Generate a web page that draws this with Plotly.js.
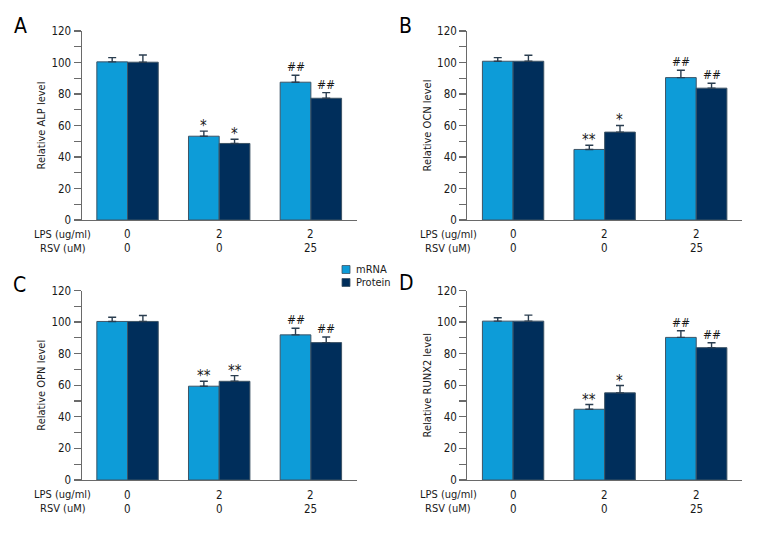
<!DOCTYPE html>
<html>
<head>
<meta charset="utf-8">
<script src="https://cdn.plot.ly/plotly-3.0.1.min.js"></script>
<style>html,body{margin:0;padding:0;background:#fff;}#chart{width:780px;height:540px;}</style>
</head>
<body>
<div id="chart"></div>
<script>
// ---- data ----
const groupIndex = [0, 1, 2];
const lpsLabels = ['0', '2', '2'];
const rsvLabels = ['0', '0', '25'];
const seriesNames = ['mRNA', 'Protein'];
const panelLetters = ['A', 'B', 'C', 'D'];
const yTitles = ['Relative ALP level', 'Relative OCN level', 'Relative OPN level', 'Relative RUNX2 level'];

const alpMrna = [100.4, 53.2, 87.5];
const alpMrnaErr = [2.7, 3.2, 4.4];
const alpProtein = [100.2, 48.6, 77.3];
const alpProteinErr = [4.6, 2.7, 3.6];
const alpMrnaSig = ['', '*', '##'];
const alpProteinSig = ['', '*', '##'];

const ocnMrna = [100.8, 44.8, 90.4];
const ocnMrnaErr = [2.3, 2.7, 4.7];
const ocnProtein = [100.8, 55.8, 83.7];
const ocnProteinErr = [3.8, 4.2, 3.1];
const ocnMrnaSig = ['', '**', '##'];
const ocnProteinSig = ['', '*', '##'];

const opnMrna = [100.4, 59.4, 91.9];
const opnMrnaErr = [2.7, 3.1, 4.2];
const opnProtein = [100.4, 62.5, 87.0];
const opnProteinErr = [3.8, 3.6, 3.6];
const opnMrnaSig = ['', '**', '##'];
const opnProteinSig = ['', '**', '##'];

const runxMrna = [100.6, 44.8, 90.3];
const runxMrnaErr = [2.1, 3.0, 4.2];
const runxProtein = [100.6, 55.2, 83.8];
const runxProteinErr = [3.8, 4.6, 3.1];
const runxMrnaSig = ['', '**', '##'];
const runxProteinSig = ['', '*', '##'];

// ---- styling ----
const W = 780, H = 540;
const FONT = '"Liberation Sans Narrow", "DejaVu Sans Condensed", "Arial Narrow", sans-serif';
const LIGHT = '#0d9cd8';
const DARK = '#002e5b';
const EDGE = '#3d5466';
const ERRC = '#2b3e50';
const AXC = '#6a6a6a';
const TXT = '#1a1a1a';
const BARGAP = 0.33;

const panels = [
  {m: alpMrna, me: alpMrnaErr, p: alpProtein, pe: alpProteinErr, ms: alpMrnaSig, ps: alpProteinSig},
  {m: ocnMrna, me: ocnMrnaErr, p: ocnProtein, pe: ocnProteinErr, ms: ocnMrnaSig, ps: ocnProteinSig},
  {m: opnMrna, me: opnMrnaErr, p: opnProtein, pe: opnProteinErr, ms: opnMrnaSig, ps: opnProteinSig},
  {m: runxMrna, me: runxMrnaErr, p: runxProtein, pe: runxProteinErr, ms: runxMrnaSig, ps: runxProteinSig}
];

// pixel geometry of each plot box: [left, right, top, bottom]
const boxes = [
  [81.7, 356.7, 31, 220],
  [467.3, 742, 31, 220],
  [81.7, 356.7, 290.5, 480],
  [467.3, 742, 290.5, 480]
];
const letterPos = [[20, 26], [405, 26], [19.5, 285], [406, 283]];

const traces = [];
const layout = {
  width: W, height: H,
  margin: {l: 0, r: 0, t: 0, b: 0},
  paper_bgcolor: '#fff', plot_bgcolor: 'rgba(0,0,0,0)',
  showlegend: false,
  barmode: 'group', bargap: BARGAP, bargroupgap: 0,
  font: {family: FONT, size: 11, color: TXT},
  annotations: [], shapes: []
};

const half = (1 - BARGAP) / 4;

panels.forEach((pn, k) => {
  const n = k === 0 ? '' : String(k + 1);
  const xa = 'x' + n, ya = 'y' + n;
  const b = boxes[k];
  layout['xaxis' + n] = {
    domain: [b[0] / W, b[1] / W], anchor: ya,
    range: [-0.5, 2.5], showline: true, linecolor: AXC, linewidth: 1.2,
    ticks: '', showticklabels: false, showgrid: false, zeroline: false, fixedrange: true
  };
  layout['yaxis' + n] = {
    domain: [1 - b[3] / H, 1 - b[2] / H], anchor: xa,
    range: [0, 120], dtick: 20, tick0: 0,
    showline: true, linecolor: AXC, linewidth: 1.2,
    ticks: 'outside', ticklen: 7, tickwidth: 1.2, tickcolor: AXC,
    minor: {dtick: 10, ticks: 'outside', ticklen: 7, tickwidth: 1.2, tickcolor: AXC, showgrid: false},
    tickfont: {family: FONT, size: 11.5, color: TXT},
    showgrid: false, zeroline: false, fixedrange: true,
    title: {text: yTitles[k], font: {family: FONT, size: 11, color: TXT}, standoff: 3}
  };
  traces.push({
    type: 'bar', name: seriesNames[0], x: groupIndex, y: pn.m, xaxis: xa, yaxis: ya,
    marker: {color: LIGHT, line: {color: EDGE, width: 1}},
    error_y: {type: 'data', symmetric: false, array: pn.me, arrayminus: pn.me.map(() => 0), color: ERRC, thickness: 1.4, width: 4},
    offsetgroup: 'm', hoverinfo: 'skip'
  });
  traces.push({
    type: 'bar', name: seriesNames[1], x: groupIndex, y: pn.p, xaxis: xa, yaxis: ya,
    marker: {color: DARK, line: {color: EDGE, width: 1}},
    error_y: {type: 'data', symmetric: false, array: pn.pe, arrayminus: pn.pe.map(() => 0), color: ERRC, thickness: 1.4, width: 4},
    offsetgroup: 'p', hoverinfo: 'skip'
  });
  // significance markers
  groupIndex.forEach((g, i) => {
    [[pn.ms, pn.m, pn.me, -half], [pn.ps, pn.p, pn.pe, half]].forEach(([sig, v, e, off]) => {
      if (!sig[i]) return;
      const isStar = sig[i].indexOf('*') >= 0;
      layout.annotations.push({
        xref: xa, yref: ya, x: g + off, y: v[i] + e[i], text: sig[i],
        showarrow: false, xanchor: 'center', yanchor: 'bottom', yshift: isStar ? -6 : -1,
        font: {family: FONT, size: isStar ? 15 : 12, color: TXT}
      });
    });
    // x category labels (two rows)
    layout.annotations.push({
      xref: xa, yref: ya, x: g, y: 0, yshift: -14.5, text: lpsLabels[i],
      showarrow: false, xanchor: 'center', yanchor: 'middle', font: {family: FONT, size: 11.5, color: TXT}
    });
    layout.annotations.push({
      xref: xa, yref: ya, x: g, y: 0, yshift: -28.5, text: rsvLabels[i],
      showarrow: false, xanchor: 'center', yanchor: 'middle', font: {family: FONT, size: 11.5, color: TXT}
    });
  });
  // row labels
  layout.annotations.push({
    xref: xa, yref: ya, x: -0.5, y: 0, xshift: -19, yshift: -14.5, text: 'LPS (ug/ml)',
    showarrow: false, xanchor: 'center', yanchor: 'middle', font: {family: FONT, size: 11, color: TXT}
  });
  layout.annotations.push({
    xref: xa, yref: ya, x: -0.5, y: 0, xshift: -19, yshift: -28.5, text: 'RSV (uM)',
    showarrow: false, xanchor: 'center', yanchor: 'middle', font: {family: FONT, size: 11, color: TXT}
  });
  // panel letter
  layout.annotations.push({
    xref: 'paper', yref: 'paper', x: letterPos[k][0] / W, y: 1 - letterPos[k][1] / H,
    text: panelLetters[k], showarrow: false, xanchor: 'center', yanchor: 'middle',
    font: {family: FONT, size: 21, color: '#000'}
  });
});

// manual legend (compact, as in the reference)
const legendItems = [[seriesNames[0], LIGHT, 269.5], [seriesNames[1], DARK, 282.5]];
legendItems.forEach(([name, col, cy]) => {
  layout.shapes.push({
    type: 'rect', xref: 'paper', yref: 'paper',
    x0: 342 / W, x1: 350 / W, y0: 1 - (cy + 4) / H, y1: 1 - (cy - 4) / H,
    fillcolor: col, line: {color: EDGE, width: 0.8}
  });
  layout.annotations.push({
    xref: 'paper', yref: 'paper', x: 354 / W, y: 1 - cy / H, text: name,
    showarrow: false, xanchor: 'left', yanchor: 'middle', font: {family: FONT, size: 11, color: TXT}
  });
});

Plotly.newPlot('chart', traces, layout, {staticPlot: true, displayModeBar: false});
</script>
</body>
</html>
